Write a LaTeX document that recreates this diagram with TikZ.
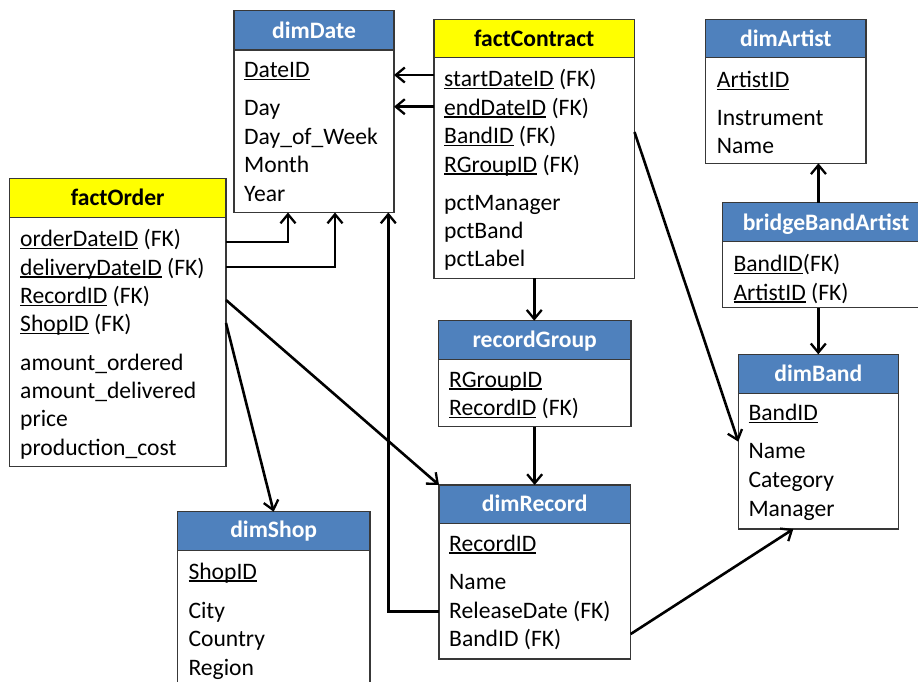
\documentclass[tikz,border=0pt]{standalone}
\usepackage{fontspec}
\setmainfont{Carlito}
\usetikzlibrary{arrows.meta}

\definecolor{hdrblue}{HTML}{4F81BD}
\definecolor{hdryellow}{HTML}{FFFF00}
\definecolor{edgegray}{HTML}{383838}

\newcommand\diagfont{\fontsize{23.6}{28}\selectfont}
\newsavebox\keybox
% underlined key attribute
\newcommand\keyattr[1]{\sbox\keybox{#1}\rlap{\rule[-2.6pt]{\wd\keybox}{1.3pt}}\usebox\keybox}

% table: name, left, top, right, header bottom, bottom, header style
\newcommand\entity[7]{%
  \node[tbl, minimum width={#4-#2}, minimum height={#6-#3}] (#1) at (#2,#3) {};
  \node[#7, minimum width={#4-#2}, minimum height={#5-#3}] (#1-h) at (#2,#3) {};
}

\tikzset{
  tbl/.style={draw=edgegray, line width=1.4pt, fill=white, inner sep=0pt, outer sep=0pt, anchor=north west},
  bluehdr/.style={tbl, fill=hdrblue},
  yellowhdr/.style={tbl, fill=hdryellow},
  title/.style={anchor=base, inner sep=0pt, font=\diagfont\bfseries},
  wtitle/.style={title, text=white},
  row/.style={anchor=base west, inner sep=0pt, text height=14pt, text depth=0pt, font=\diagfont},
  conn/.style={line width=2.6pt, -{Straight Barb[length=9pt,width=15pt,line width=2.3pt]}},
}

\begin{document}
\begin{tikzpicture}[x=1pt, y=-1pt]
\useasboundingbox[fill=white] (0,0) rectangle (918,681);

% ---------- dimDate ----------
\entity{dd}{234}{10.5}{394}{50}{212.5}{bluehdr}
\node[wtitle] (dd-t) at (314,38) {dimDate};
\node[row] (dd-1) at (244,77.7) {\keyattr{DateID}};
\node[row] (dd-2) at (244,115.5) {Day};
\node[row] (dd-3) at (244,144) {Day\_of\_Week};
\node[row] (dd-4) at (244,172.5) {Month};
\node[row] (dd-5) at (244,201) {Year};

% ---------- factContract ----------
\entity{fc}{434}{19.3}{634.5}{57.7}{278.3}{yellowhdr}
\node[title] (fc-t) at (534.2,46.7) {factContract};
\node[row] (fc-start) at (444,86.7) {\keyattr{startDateID} (FK)};
\node[row] (fc-end) at (444,115) {\keyattr{endDateID} (FK)};
\node[row] (fc-band) at (444,143.3) {\keyattr{BandID} (FK)};
\node[row] (fc-rg) at (444,172) {\keyattr{RGroupID} (FK)};
\node[row] (fc-5) at (444,210) {pctManager};
\node[row] (fc-6) at (444,238) {pctBand};
\node[row] (fc-7) at (444,266.5) {pctLabel};

% ---------- dimArtist ----------
\entity{da}{705.7}{19.3}{866}{57.7}{163.3}{bluehdr}
\node[wtitle] (da-t) at (785.9,46) {dimArtist};
\node[row] (da-1) at (716.7,87.3) {\keyattr{ArtistID}};
\node[row] (da-2) at (716.7,125) {Instrument};
\node[row] (da-3) at (716.7,153.5) {Name};

% ---------- bridgeBandArtist ----------
\entity{bba}{722.3}{202.7}{930}{241.7}{307.7}{bluehdr}
\node[wtitle] (bba-t) at (826,230) {bridgeBandArtist};
\node[row] (bba-1) at (733.3,271.7) {\keyattr{BandID}(FK)};
\node[row] (bba-2) at (733.3,300) {\keyattr{ArtistID} (FK)};

% ---------- factOrder ----------
\entity{fo}{9.3}{178.5}{226}{217.7}{466.7}{yellowhdr}
\node[title] (fo-t) at (117.7,205.7) {factOrder};
\node[row] (fo-odate) at (20,246.7) {\keyattr{orderDateID} (FK)};
\node[row] (fo-ddate) at (20,275) {\keyattr{deliveryDateID} (FK)};
\node[row] (fo-rec) at (20,303.3) {\keyattr{RecordID} (FK)};
\node[row] (fo-shop) at (20,331.7) {\keyattr{ShopID} (FK)};
\node[row] (fo-5) at (20,370) {amount\_ordered};
\node[row] (fo-6) at (20,398.3) {amount\_delivered};
\node[row] (fo-7) at (20,426.7) {price};
\node[row] (fo-8) at (20,455) {production\_cost};

% ---------- recordGroup ----------
\entity{rg}{438.3}{320.7}{631}{359.3}{426.7}{bluehdr}
\node[wtitle] (rg-t) at (534.7,347.3) {recordGroup};
\node[row] (rg-1) at (449,387) {\keyattr{RGroupID}};
\node[row] (rg-2) at (449,415.7) {\keyattr{RecordID} (FK)};

% ---------- dimBand ----------
\entity{db}{738.3}{354.3}{898.3}{393.3}{529}{bluehdr}
\node[wtitle] (db-t) at (818.3,381.7) {dimBand};
\node[row] (db-1) at (748.3,420.7) {\keyattr{BandID}};
\node[row] (db-2) at (748.3,458.3) {Name};
\node[row] (db-3) at (748.3,487.7) {Category};
\node[row] (db-4) at (748.3,516.7) {Manager};

% ---------- dimRecord ----------
\entity{dr}{439}{485}{630.7}{523.3}{659}{bluehdr}
\node[wtitle] (dr-t) at (534.8,511.7) {dimRecord};
\node[row] (dr-1) at (449,551) {\keyattr{RecordID}};
\node[row] (dr-2) at (449,589) {Name};
\node[row] (dr-rel) at (449,618.3) {ReleaseDate (FK)};
\node[row] (dr-band) at (449,646.7) {BandID (FK)};

% ---------- dimShop ----------
\entity{ds}{177.3}{511.7}{370}{550.7}{700}{bluehdr}
\node[wtitle] (ds-t) at (273.7,537.3) {dimShop};
\node[row] (ds-1) at (188.3,579) {\keyattr{ShopID}};
\node[row] (ds-2) at (188.3,618.3) {City};
\node[row] (ds-3) at (188.3,646.7) {Country};
\node[row] (ds-4) at (188.3,675) {Region};

% ---------- foreign-key references ----------
\draw[conn] ([yshift=4.7pt]fc-start.west -| fc.west) -- ([yshift=4.7pt]fc-start.west -| dd.east);
\draw[conn] ([yshift=1.3pt]fc-end.west -| fc.west) -- ([yshift=1.3pt]fc-end.west -| dd.east);
\draw[conn] ([yshift=-2.3pt]fo-odate.east -| fo.east) -| ([xshift=-26pt]dd.south);
\draw[conn] ([yshift=1pt]fo-ddate.east -| fo.east) -| ([xshift=21pt]dd.south);
\draw[conn] (dr-rel.west -| dr.west) -| ([xshift=74.3pt]dd.south);
\draw[conn] (fc.south) -- (fc.south |- rg.north);
\draw[conn] (rg.south) -- (rg.south |- dr.north);
\draw[conn] ([yshift=-3.7pt]fo-rec.east -| fo.east) -- (dr.north west);
\draw[conn] ([yshift=1.7pt]fo-shop.east -| fo.east) -- (ds.north);
\draw[conn] ([yshift=4.3pt]fc-band.east -| fc.east) -- (db.west);
\draw[conn] ([yshift=5.7pt]dr-band.east -| dr.east) -- ([xshift=-25pt]db.south);
\draw[conn] ([xshift=-7.7pt]bba.north) -- ([xshift=-7.7pt]bba.north |- da.south);
\draw[conn] (db.north |- bba.south) -- (db.north);
\end{tikzpicture}
\end{document}
